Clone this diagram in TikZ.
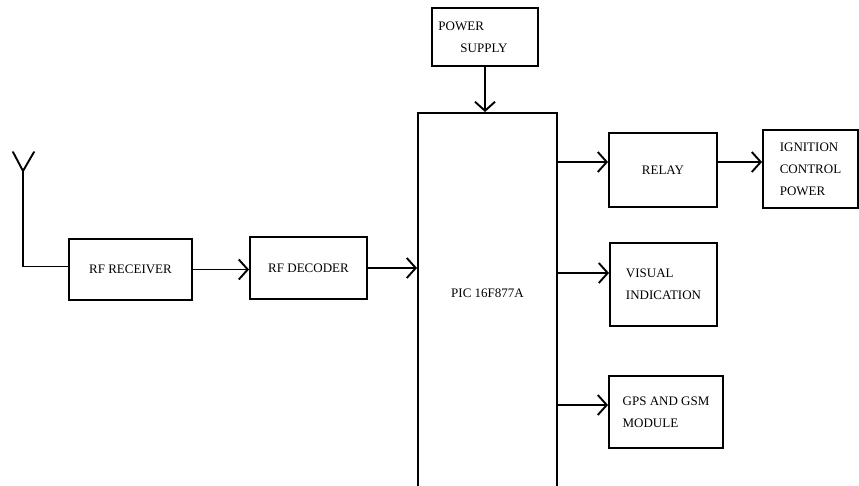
\documentclass[tikz,border=0pt]{standalone}
\usepackage{fontspec}
\setmainfont{Liberation Serif}
\usepackage{tikz}
\usetikzlibrary{arrows.meta,positioning,calc}
\tikzset{
  blockbox/.style={rectangle,draw=black,line width=1.9pt,inner sep=0pt,
    font=\fontsize{13}{22}\selectfont,align=left},
  sig/.style={-{Straight Barb[length=9pt,width=20pt,line width=1.9pt]},line width=1.9pt},
  wire/.style={line width=1.9pt,line cap=round}
}
\begin{document}
\begin{tikzpicture}[
  x=1pt,y=-1pt,
  plaintext/.style={
    inner sep=0pt,
    font=\fontsize{13}{22}\selectfont
  }
]
\useasboundingbox (0,0) rectangle (859,486);

% blocks
\node[blockbox,minimum width=123,minimum height=61] (rx)    at (130.5,269.5) {RF RECEIVER};
\node[blockbox,minimum width=117,minimum height=62] (dec)   at (308.5,268)   {RF DECODER};
\node[blockbox,minimum width=139,minimum height=390] (pic)  at (487.5,308)   {};
\node[plaintext] (piclabel) at (487.5,293) {PIC 16F877A};
\node[blockbox,minimum width=106,minimum height=58] (psu)   at (485,37)
  {POWER\\\hspace*{22pt}SUPPLY\hspace*{24pt}};
\node[blockbox,minimum width=108,minimum height=74] (relay) at (663,170)   {RELAY};
\node[blockbox,minimum width=95,minimum height=78]  (ign)   at (810.5,169) {IGNITION\\CONTROL\\POWER};
\node[blockbox,minimum width=107,minimum height=83] (vis)   at (663.5,284.5) {VISUAL\\INDICATION};
\node[blockbox,minimum width=114,minimum height=72] (gps)   at (666,412)   {GPS AND GSM\\MODULE};

% antenna
\coordinate (anttip)   at (23,171);
\coordinate (antleft)  at (13,152);
\coordinate (antright) at (34,152);
\draw[wire] (antleft)--(anttip)--(antright);
\draw[wire] (anttip) |- ([yshift=3pt]rx.west);

% signal path
\draw[sig] (rx.east)--(rx.east -| dec.west);
\draw[sig] (dec.east)--(dec.east -| pic.west);
\draw[sig] (psu.south)--(psu.south |- pic.north);

% outputs
\draw[sig] ([yshift=8pt]relay.west -| pic.east)--([yshift=8pt]relay.west);
\draw[sig] ([yshift=8pt]relay.east)--([yshift=8pt]relay.east -| ign.west);
\draw[sig] ([yshift=11.5pt]vis.west -| pic.east)--([yshift=11.5pt]vis.west);
\draw[sig] ([yshift=7pt]gps.west -| pic.east)--([yshift=7pt]gps.west);

\end{tikzpicture}
\end{document}
